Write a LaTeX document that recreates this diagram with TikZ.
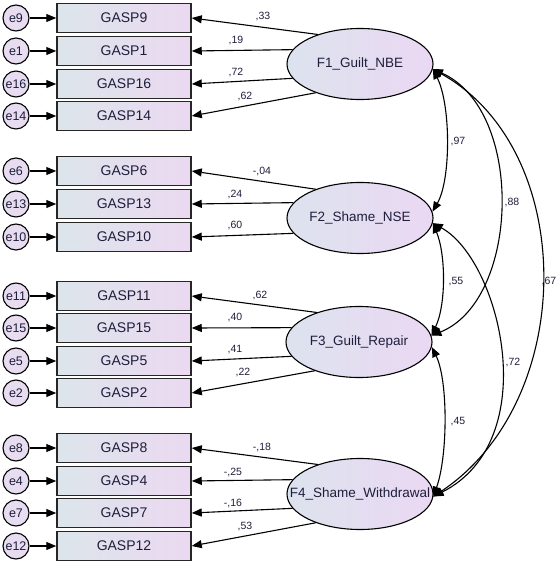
\documentclass[tikz,border=0pt]{standalone}
\usepackage{fontspec}
\setmainfont{Liberation Sans}
\usetikzlibrary{arrows.meta,shapes.geometric}
\definecolor{boxL}{HTML}{DDE5EB}
\definecolor{boxR}{HTML}{EBD9F1}
\definecolor{ellL}{HTML}{DCE3EE}
\definecolor{ellR}{HTML}{EBD8F3}
\definecolor{errF}{HTML}{E8DDF0}
\definecolor{txt}{HTML}{1E1E3C}
\begin{document}
\begin{tikzpicture}[x=1pt,y=-1pt,
  obs/.style={draw=black!85, line width=1.5pt, left color=boxL, right color=boxR,
    minimum width=134pt, minimum height=29pt, inner sep=0pt,
    font=\fontsize{14}{16}\selectfont, text=txt},
  lat/.style={ellipse, draw=black, line width=1.1pt, left color=ellL, right color=ellR,
    minimum width=146pt, minimum height=71pt, inner sep=0pt,
    font=\fontsize{13.5}{15}\selectfont, text=txt},
  err/.style={circle, draw=black, line width=1.1pt, fill=errF, minimum size=26pt,
    inner sep=0pt, font=\fontsize{12.5}{14}\selectfont, text=txt},
  lbl/.style={font=\fontsize{10.5}{12}\selectfont, inner sep=0pt, text=txt},
  arr/.style={-{Triangle[length=10pt,width=8pt]}, line width=1.1pt},
  cov/.style={{Triangle[length=10pt,width=8pt]}-{Triangle[length=10pt,width=8pt]}, line width=1.1pt}
]
\useasboundingbox (0,0) rectangle (558,561);

% observed variables with error terms
\foreach \n/\y in {9/18,1/51,16/84,14/116,6/171,13/204,10/237,11/296,15/328,5/361,2/393,8/448,4/481,7/513,12/546}{
  \node[err] (e\n) at (16,\y) {e\n};
  \node[obs] (g\n) at (124,\y) {GASP\n};
  \draw[arr] (e\n) -- (g\n);
}

% latent factors
\node[lat] (F1) at (360,64) {\makebox[0pt][c]{F1\_Guilt\_NBE}};
\node[lat] (F2) at (360,218) {\makebox[0pt][c]{F2\_Shame\_NSE}};
\node[lat] (F3) at (359,342) {\makebox[0pt][c]{F3\_Guilt\_Repair}};
\node[lat] (F4) at (360,494) {\makebox[0pt][c]{F4\_Shame\_Withdrawal}};

% loadings
\foreach \f/\n/\a in {1/9/145,1/1/168,1/16/192,1/14/213,
                      2/6/147,2/13/167,2/10/193,
                      3/11/145,3/15/168,3/5/192,3/2/213,
                      4/8/145,4/4/168,4/7/192,4/12/213}{
  \draw[arr] (F\f.\a) -- (g\n.east);
}

% loading labels
\node[lbl] (l9) at (263,17) {,33};
\node[lbl] (l1) at (236,41) {,19};
\node[lbl] (l16) at (236,73) {,72};
\node[lbl] (l14) at (245,97) {,62};
\node[lbl] (l6) at (262,172) {-,04};
\node[lbl] (l13) at (235,195) {,24};
\node[lbl] (l10) at (235,226) {,60};
\node[lbl] (l11) at (260,296) {,62};
\node[lbl] (l15) at (235,318) {,40};
\node[lbl] (l5) at (235,350) {,41};
\node[lbl] (l2) at (243,373) {,22};
\node[lbl] (l8) at (262,448) {-,18};
\node[lbl] (l4) at (233,472) {-,25};
\node[lbl] (l7) at (233,503) {-,16};
\node[lbl] (l12) at (245,526) {,53};

% covariances
\draw[cov] (F1.-4) .. controls (451,105) and (451,180) .. (F2.5);
\draw[cov] (F2.-4) .. controls (446,255) and (446,305) .. (F3.5);
\draw[cov] (F3.-4) .. controls (448,380) and (448,455) .. (F4.-2);
\draw[cov] (F1.-4) .. controls (525,110) and (520,300) .. (F3.5);
\draw[cov] (F2.-4) .. controls (500,260) and (545,440) .. (F4.-2);
\draw[cov] (F1.-4) .. controls (578,150) and (578,400) .. (F4.-2);

\node[lbl] (c12) at (458,142) {,97};
\node[lbl] (c13) at (512,203) {,88};
\node[lbl] (c23) at (456,282) {,55};
\node[lbl] (c14) at (549,282) {,67};
\node[lbl] (c24) at (513,363) {,72};
\node[lbl] (c34) at (458,422) {,45};
\end{tikzpicture}
\end{document}
